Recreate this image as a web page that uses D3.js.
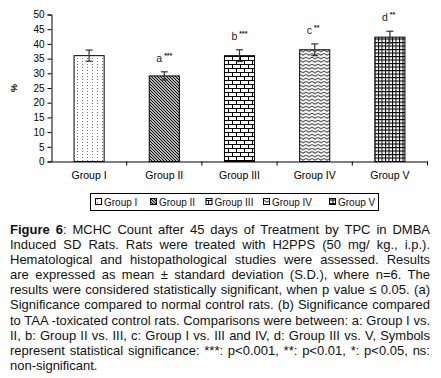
<!DOCTYPE html>
<html>
<head>
<meta charset="utf-8">
<script src="https://cdn.jsdelivr.net/npm/d3@7"></script>
<style>
  body { margin: 0; background: #fff; font-family: "Liberation Sans", Arial, sans-serif; }
  #wrap { position: relative; width: 441px; height: 378px; overflow: hidden; }
  #cap { position: absolute; left: 10px; top: 222px; width: 420px; font-size: 13px; line-height: 15.1px; color: #111; }
  #cap div { text-align: justify; text-align-last: justify; white-space: nowrap; }
  #cap div.last { text-align-last: left; }
</style>
</head>
<body>
<div id="wrap">
  <div id="chart"></div>
  <div id="cap"></div>
</div>
<script>
// MCHC (%) theo nhóm – mean ± SD
const groups  = ["Group I", "Group II", "Group III", "Group IV", "Group V"];
const means   = [36, 29.1, 36, 38, 42.3];
const sds     = [1.9, 1.4, 2, 2, 2];
const letters = ["", "a", "b", "c", "d"];
const stars   = ["", "***", "***", "**", "**"];
const yTicks  = [0, 5, 10, 15, 20, 25, 30, 35, 40, 45, 50];

const captionLines = [
  "<b>Figure 6</b>: MCHC Count after 45 days of Treatment by TPC in DMBA",
  "Induced SD Rats. Rats were treated with H2PPS (50 mg/ kg., i.p.).",
  "Hematological and histopathological studies were assessed. Results",
  "are expressed as mean ± standard deviation (S.D.), where n=6. The",
  "results were considered statistically significant, when p value ≤ 0.05. (a)",
  "Significance compared to normal control rats. (b) Significance compared",
  "to TAA -toxicated control rats. Comparisons were between: a: Group I vs.",
  "II, b: Group II vs. III, c: Group I vs. III and IV, d: Group III vs. V, Symbols",
  "represent statistical significance: ***: p&lt;0.001, **: p&lt;0.01, *: p&lt;0.05, ns:",
  "non-significant."
];

const width = 441, height = 215;
const x = d3.scaleBand().domain(groups).range([51.5, 427.5]).padding(0);
const y = d3.scaleLinear().domain([0, 50]).range([161.5, 14.5]);
const barW = x.bandwidth() * 0.4;

const svg = d3.select("#chart").append("svg")
  .attr("width", width).attr("height", height)
  .style("display", "block")
  .style("font-family", "'Liberation Sans', Arial, sans-serif");

// Pattern fills (kiểu Excel)
const defs = svg.append("defs");
const pats = ["pDots", "pDiag", "pBrick", "pWave", "pGrid"];
{
  let p = defs.append("pattern").attr("id", "pDots").attr("patternUnits", "userSpaceOnUse")
    .attr("width", 5).attr("height", 3);
  p.append("rect").attr("width", 5).attr("height", 3).attr("fill", "#fff");
  p.append("rect").attr("x", 2).attr("y", 1).attr("width", 1).attr("height", 1).attr("fill", "#777");

  p = defs.append("pattern").attr("id", "pDiag").attr("patternUnits", "userSpaceOnUse")
    .attr("width", 3).attr("height", 3);
  p.append("rect").attr("width", 3).attr("height", 3).attr("fill", "#fff");
  p.append("path").attr("d", "M-1,-1 L4,4 M-1,2 L1,4 M2,-1 L4,1").attr("stroke", "#000").attr("stroke-width", 1.1);

  p = defs.append("pattern").attr("id", "pBrick").attr("patternUnits", "userSpaceOnUse")
    .attr("width", 8).attr("height", 8);
  p.append("rect").attr("width", 8).attr("height", 8).attr("fill", "#fff");
  p.append("path").attr("d", "M0,0.5 H8 M0,4.5 H8 M0.5,0.5 V4.5 M4.5,4.5 V8")
    .attr("stroke", "#000").attr("stroke-width", 1).attr("fill", "none");

  p = defs.append("pattern").attr("id", "pWave").attr("patternUnits", "userSpaceOnUse")
    .attr("width", 6).attr("height", 3.5);
  p.append("rect").attr("width", 6).attr("height", 3.5).attr("fill", "#fff");
  p.append("path").attr("d", "M0,1 L3,2.8 L6,1").attr("stroke", "#222").attr("stroke-width", 1).attr("fill", "none");

  p = defs.append("pattern").attr("id", "pGrid").attr("patternUnits", "userSpaceOnUse")
    .attr("width", 3.5).attr("height", 3.5);
  p.append("rect").attr("width", 3.5).attr("height", 3.5).attr("fill", "#fff");
  p.append("path").attr("d", "M0.5,0 V3.5 M0,0.5 H3.5").attr("stroke", "#000").attr("stroke-width", 1).attr("fill", "none");
}

// Trục Y
svg.append("g")
  .attr("transform", `translate(${x.range()[0]},0)`)
  .call(d3.axisLeft(y).tickValues(yTicks).tickSize(4).tickPadding(3))
  .call(g => g.selectAll("text").attr("font-size", 10).attr("fill", "#000").style("font-family", "inherit"))
  .call(g => g.selectAll("line,path").attr("stroke", "#000"));

// Trục X
svg.append("g")
  .attr("transform", `translate(0,${y(0)})`)
  .call(d3.axisBottom(x).tickSize(0).tickPadding(10))
  .call(g => g.selectAll("text").attr("font-size", 10.5).attr("fill", "#000").style("font-family", "inherit"))
  .call(g => g.select(".domain").attr("stroke", "#000"));

// tick giữa các nhóm
svg.append("g").selectAll("line")
  .data(groups).join("line")
  .attr("x1", d => x(d) + x.bandwidth()).attr("x2", d => x(d) + x.bandwidth())
  .attr("y1", y(0)).attr("y2", y(0) + 4)
  .attr("stroke", "#000");

// Nhãn trục Y
svg.append("text")
  .attr("transform", `translate(17,${(y(0) + y(50)) / 2}) rotate(-90)`)
  .attr("text-anchor", "middle").attr("font-size", 9).attr("font-weight", "bold")
  .text("%");

// Cột
const cx = d => x(d) + x.bandwidth() / 2;
svg.append("g").selectAll("rect")
  .data(groups).join("rect")
  .attr("x", d => cx(d) - barW / 2)
  .attr("y", (d, i) => y(means[i]))
  .attr("width", barW)
  .attr("height", (d, i) => y(0) - y(means[i]))
  .attr("fill", (d, i) => `url(#${pats[i]})`)
  .attr("stroke", "#000").attr("stroke-width", 1);

// Error bars
const eb = svg.append("g").attr("stroke", "#333").attr("stroke-width", 1.2);
groups.forEach((g, i) => {
  const c = cx(g), hi = y(means[i] + sds[i]), lo = y(means[i] - sds[i]);
  eb.append("line").attr("x1", c).attr("x2", c).attr("y1", hi).attr("y2", lo);
  eb.append("line").attr("x1", c - 3.5).attr("x2", c + 3.5).attr("y1", hi).attr("y2", hi);
  eb.append("line").attr("x1", c - 3.5).attr("x2", c + 3.5).attr("y1", lo).attr("y2", lo);
});

// Ký hiệu ý nghĩa thống kê
groups.forEach((g, i) => {
  if (!letters[i]) return;
  const t = svg.append("text")
    .attr("x", cx(g) - 8)
    .attr("y", y(means[i] + sds[i]) - 10)
    .attr("font-size", 10.5).attr("fill", "#222");
  t.append("tspan").text(letters[i]);
  t.append("tspan").attr("dx", 2).attr("dy", -4).attr("font-size", 7).attr("font-weight", "bold").text(stars[i]);
});

// Legend
const lg = svg.append("g");
lg.append("rect").attr("x", 90.5).attr("y", 193.5).attr("width", 288).attr("height", 17)
  .attr("fill", "#fff").attr("stroke", "#000");
const itemX = [95, 150, 205.5, 263, 329];
groups.forEach((g, i) => {
  lg.append("rect").attr("x", itemX[i] + 0.5).attr("y", 198.5).attr("width", 6).attr("height", 6)
    .attr("fill", `url(#${pats[i]})`).attr("stroke", "#000");
  lg.append("text").attr("x", itemX[i] + 9).attr("y", 206)
    .attr("font-size", 10).attr("fill", "#111").text(g);
});

// Chú thích hình
d3.select("#cap").selectAll("div")
  .data(captionLines).join("div")
  .attr("class", (d, i) => i === captionLines.length - 1 ? "last" : null)
  .html(d => d);
</script>
</body>
</html>
